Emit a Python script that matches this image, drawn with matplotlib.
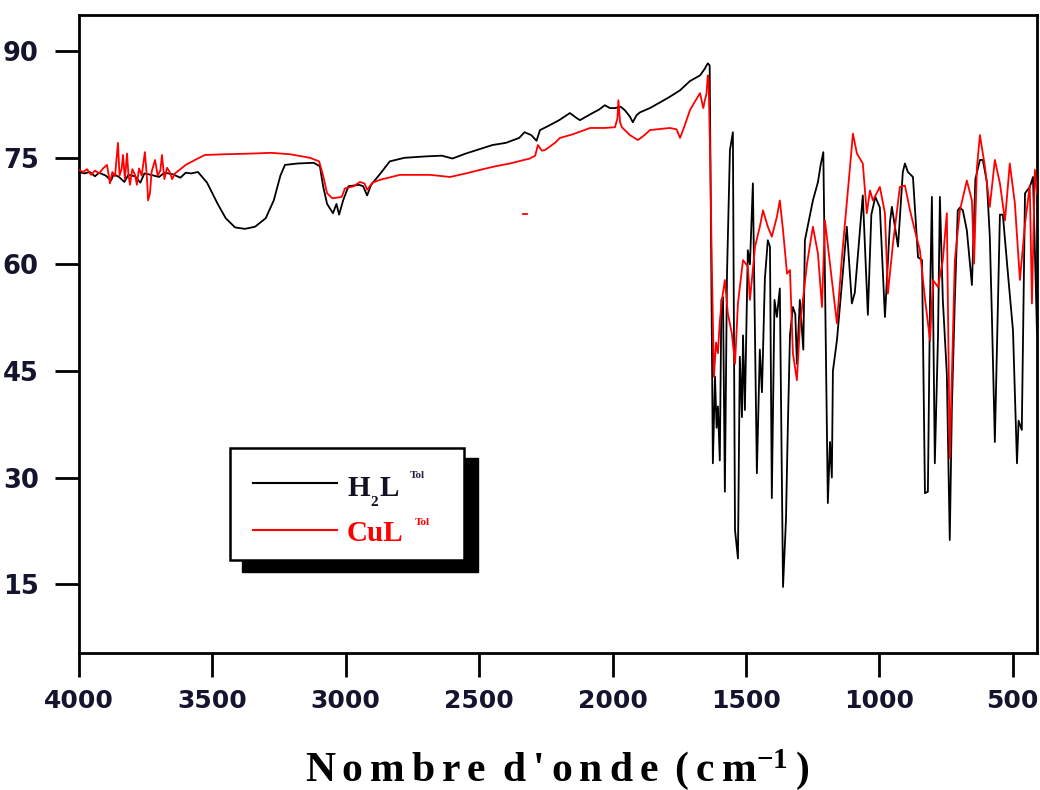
import matplotlib
matplotlib.use("Agg")
import matplotlib.pyplot as plt
from matplotlib.patches import Rectangle

plt.rcParams['mathtext.fontset'] = 'custom'
plt.rcParams['mathtext.rm'] = 'Liberation Serif:bold'
plt.rcParams['mathtext.bf'] = 'Liberation Serif:bold'
plt.rcParams['mathtext.it'] = 'Liberation Serif:bold'

# ---------------- data (wavenumber cm-1, transmittance %) ----------------
h2l_wn_hi = [4000, 3980, 3960, 3940, 3925, 3900, 3880, 3870, 3850, 3830, 3815, 3790, 3770, 3755,
             3730, 3700, 3680, 3650, 3620, 3600, 3580, 3554, 3520, 3480, 3450, 3415, 3378, 3340,
             3300, 3270, 3245, 3228, 3180, 3120, 3097, 3085, 3070, 3048, 3035, 3025, 3010, 2990,
             2950, 2935, 2920, 2905, 2870, 2835, 2780, 2700, 2640, 2600, 2550, 2500, 2450, 2400,
             2350, 2330, 2305, 2285, 2272, 2240, 2200, 2160, 2135, 2122, 2080, 2050, 2029, 2010,
             1991, 1970, 1954, 1935, 1924, 1910, 1897, 1860, 1822, 1785, 1747, 1710, 1672, 1655,
             1643, 1636]
h2l_t_hi = [73.0, 72.8, 73.0, 72.4, 72.9, 72.5, 71.8, 72.7, 72.3, 71.6, 72.6, 72.4, 71.5, 72.8,
            72.6, 72.3, 72.9, 72.7, 72.2, 72.9, 72.8, 73.0, 71.5, 68.5, 66.5, 65.2, 65.0, 65.3,
            66.5, 69.0, 72.5, 74.0, 74.2, 74.3, 73.8, 71.0, 68.5, 67.2, 68.5, 67.0, 69.0, 71.0,
            71.2, 71.0, 69.7, 71.2, 72.8, 74.5, 75.0, 75.2, 75.3, 74.9, 75.6, 76.2, 76.8, 77.1,
            77.8, 78.6, 78.2, 77.4, 78.9, 79.5, 80.3, 81.3, 80.6, 80.3, 81.2, 81.8, 82.4, 82.0,
            82.0, 82.2, 81.7, 80.8, 80.0, 81.0, 81.4, 82.0, 82.8, 83.6, 84.5, 85.8, 86.6, 87.5,
            88.3, 88.0]
h2l_wn_fp = [1632, 1624, 1616, 1610, 1605, 1598, 1592, 1586, 1579, 1571, 1560, 1549, 1541, 1530,
             1523, 1515, 1511, 1504, 1493, 1485, 1474, 1459, 1448, 1440, 1429, 1418, 1410, 1403,
             1393, 1384, 1373, 1361, 1350, 1343, 1335, 1324, 1315, 1309, 1298, 1285, 1279, 1265,
             1249, 1230, 1220, 1210, 1193, 1185, 1178, 1174, 1159, 1137, 1122, 1103, 1092, 1062,
             1043, 1030, 1015, 998, 979, 960, 953, 930, 912, 904, 893, 874, 865, 855, 840, 829,
             818, 810, 803, 792, 780, 773, 762, 747, 736, 728, 717, 706, 698, 687, 672, 653, 640,
             623, 612, 597, 586, 578, 567, 548, 537, 518, 499, 484, 478, 466, 454, 436, 424, 409]
h2l_t_fp = [69.0, 32.0, 44.2, 37.0, 40.0, 32.4, 55.0, 55.4, 28.0, 58.7, 76.1, 78.6, 22.6, 18.6,
            47.0, 38.5, 50.0, 39.5, 62.0, 60.0, 71.4, 30.6, 48.0, 42.0, 58.0, 63.4, 62.5, 27.1,
            55.0, 52.6, 56.6, 14.6, 24.0, 37.1, 50.0, 54.0, 53.0, 46.0, 55.0, 48.0, 63.4, 66.0,
            69.0, 71.6, 74.0, 75.8, 26.4, 35.0, 30.0, 45.0, 49.3, 58.7, 65.3, 54.5, 56.0, 69.7,
            52.9, 67.0, 69.5, 68.0, 52.6, 66.0, 68.1, 62.5, 73.0, 74.2, 73.0, 72.3, 67.0, 61.0,
            60.6, 27.8, 28.0, 55.0, 69.5, 32.0, 50.0, 69.5, 55.0, 44.6, 21.2, 40.0, 55.0, 67.6,
            68.0, 67.6, 64.8, 57.1, 72.0, 74.7, 74.7, 71.6, 64.0, 52.6, 35.0, 67.0, 67.0, 58.7,
            50.7, 32.0, 38.0, 36.7, 70.0, 70.9, 72.3, 50.3]

cul_wn_hi = [4000, 3985, 3970, 3955, 3940, 3925, 3910, 3895, 3884, 3875, 3865, 3854, 3848, 3840,
             3835, 3828, 3820, 3815, 3809, 3800, 3790, 3783, 3775, 3765, 3753, 3745, 3741, 3734,
             3728, 3715, 3705, 3695, 3689, 3680, 3670, 3660, 3651, 3640, 3620, 3600, 3560, 3528,
             3450, 3350, 3280, 3209, 3134, 3100, 3085, 3070, 3050, 3015, 3003, 2970, 2947, 2930,
             2920, 2900, 2872, 2797, 2684, 2609, 2550, 2497, 2440, 2385, 2310, 2290, 2280, 2265,
             2253, 2216, 2197, 2150, 2084, 2030, 1991, 1982, 1978, 1972, 1965, 1935, 1905, 1880,
             1860, 1785, 1760, 1747, 1730, 1710, 1690, 1672, 1660, 1654, 1648, 1643]
cul_t_hi = [73.3, 73.0, 73.4, 72.6, 73.2, 72.8, 73.5, 74.0, 71.4, 73.0, 72.4, 77.1, 72.5, 73.5,
            75.4, 72.0, 75.6, 72.8, 71.2, 73.4, 72.6, 71.2, 73.5, 72.5, 75.8, 72.0, 69.0, 70.0,
            73.0, 74.7, 72.5, 73.2, 75.4, 72.0, 73.6, 73.0, 72.0, 72.8, 73.4, 74.0, 74.8, 75.4,
            75.5, 75.6, 75.7, 75.5, 75.0, 74.5, 72.5, 70.0, 69.3, 69.5, 70.7, 71.0, 71.6, 71.4,
            70.5, 71.5, 71.9, 72.6, 72.6, 72.3, 72.8, 73.3, 73.8, 74.2, 74.9, 75.3, 76.8, 76.0,
            76.1, 77.1, 77.8, 78.3, 79.2, 79.2, 79.3, 80.5, 83.1, 80.0, 79.3, 78.2, 77.5, 78.2,
            78.9, 79.2, 79.0, 77.8, 79.5, 81.7, 83.0, 84.1, 82.0, 83.1, 84.0, 86.6]
cul_wn_fp = [1640, 1634, 1628, 1620, 1612, 1605, 1598, 1590, 1579, 1568, 1553, 1541, 1530, 1511,
             1493, 1485, 1466, 1448, 1436, 1418, 1403, 1384, 1373, 1361, 1346, 1335, 1324, 1309,
             1298, 1271, 1249, 1230, 1215, 1204, 1178, 1159, 1140, 1122, 1110, 1099, 1084, 1062,
             1047, 1035, 1024, 998, 979, 968, 949, 923, 904, 885, 867, 848, 829, 810, 799, 780,
             762, 747, 736, 717, 698, 672, 653, 645, 634, 623, 604, 586, 567, 548, 529, 511, 492,
             473, 454, 436, 428, 417, 409]
cul_t_fp = [86.0, 75.0, 60.0, 44.2, 49.0, 47.5, 52.0, 55.0, 57.8, 53.1, 50.3, 46.0, 54.5, 60.6,
            59.7, 55.0, 62.5, 65.3, 67.6, 65.3, 63.9, 66.7, 69.0, 64.8, 58.7, 59.2, 47.5, 43.7,
            51.2, 60.1, 65.3, 61.5, 54.0, 66.2, 57.8, 51.7, 61.1, 68.6, 73.7, 78.4, 75.6, 74.2,
            67.2, 70.4, 69.0, 70.9, 67.2, 55.9, 62.9, 70.9, 71.1, 67.6, 64.8, 62.0, 55.2, 49.3,
            57.8, 56.8, 60.6, 67.2, 32.7, 60.6, 67.6, 71.8, 69.0, 60.1, 73.7, 78.2, 73.7, 68.1,
            74.7, 71.4, 66.2, 74.2, 68.6, 57.8, 65.7, 71.1, 54.5, 73.3, 70.0]
cul_stray_wn = [2335, 2322]
cul_stray_t = [67.1, 67.1]

x_ticks = [4000, 3500, 3000, 2500, 2000, 1500, 1000, 500]
y_ticks = [15, 30, 45, 60, 75, 90]

# ---------------- figure ----------------
W, H = 1040, 790
fig = plt.figure(figsize=(W / 100, H / 100), dpi=100)
L, R, T, B = 79, 1037, 15, 653
ax = fig.add_axes([L / W, 1 - B / H, (R - L) / W, (B - T) / H])

ax.plot(h2l_wn_hi + h2l_wn_fp, h2l_t_hi + h2l_t_fp, color='black', lw=1.3, zorder=2)
ax.plot(cul_wn_hi + cul_wn_fp, cul_t_hi + cul_t_fp, color='#ff0000', lw=1.3, zorder=3)
ax.plot(cul_stray_wn, cul_stray_t, color='#ff0000', lw=1.3, zorder=3)

ax.set_xlim(4000, 409)
ax.set_ylim(5.3, 95.1)
ax.set_xticks(x_ticks)
ax.set_yticks(y_ticks)
tick_color = '#14142e'
for lab in ax.get_yticklabels():
    lab.set_fontfamily('DejaVu Sans')
    lab.set_fontweight('heavy')
    lab.set_fontsize(18.5)
    lab.set_color(tick_color)
for lab in ax.get_xticklabels():
    lab.set_fontfamily('DejaVu Sans')
    lab.set_fontweight('heavy')
    lab.set_fontsize(18)
    lab.set_color(tick_color)
ax.tick_params(axis='both', direction='out', length=17, width=2, color='black')
ax.tick_params(axis='y', pad=12)
ax.tick_params(axis='x', pad=9)
for s in ax.spines.values():
    s.set_linewidth(2)

sp = '\u2006'
xlabel_txt = sp.join("Nombre") + sp + " " + sp.join("d'onde") + sp + " " + sp.join("(cm") + "$^{-1}$" + sp + ")"
fig.text(557 / W, 1 - 781 / H, xlabel_txt, fontfamily='Liberation Serif', fontweight='bold',
         fontsize=30, ha='center', va='baseline')


# ---------------- legend (drawn by hand, with solid shadow) ----------------
def fx(px):
    return (px - L) / (R - L)


def fy(py):
    return (B - py) / (B - T)


ax.add_patch(Rectangle((fx(242), fy(572)), fx(478) - fx(242), fy(458) - fy(572),
                       transform=ax.transAxes, facecolor='black', edgecolor='black', zorder=5))
ax.add_patch(Rectangle((fx(230), fy(560)), fx(464) - fx(230), fy(448) - fy(560),
                       transform=ax.transAxes, facecolor='white', edgecolor='black', lw=1.8, zorder=6))
ax.plot([fx(253), fx(337)], [fy(483), fy(483)], transform=ax.transAxes, color='black', lw=1.5, zorder=7)
ax.plot([fx(253), fx(337)], [fy(530), fy(530)], transform=ax.transAxes, color='#ff0000', lw=1.5, zorder=7)

sf = dict(fontfamily='Liberation Serif', fontweight='bold', transform=ax.transAxes, zorder=8,
          va='baseline', ha='left')
ax.text(fx(347), fy(496), "H", fontsize=21, color='#111122', **sf)
ax.text(fx(370), fy(506), "2", fontsize=11, color='#111122', **sf)
ax.text(fx(379), fy(496), "L", fontsize=21, color='#111122', **sf)
ax.text(fx(410), fy(478), "Tol", fontsize=8, color='#222244', **sf)
ax.text(fx(347), fy(541), "CuL", fontsize=21, color='#ff0000', **sf)
ax.text(fx(415), fy(525), "Tol", fontsize=8, color='#ff0000', **sf)

fig.savefig("out.png", dpi=100)
